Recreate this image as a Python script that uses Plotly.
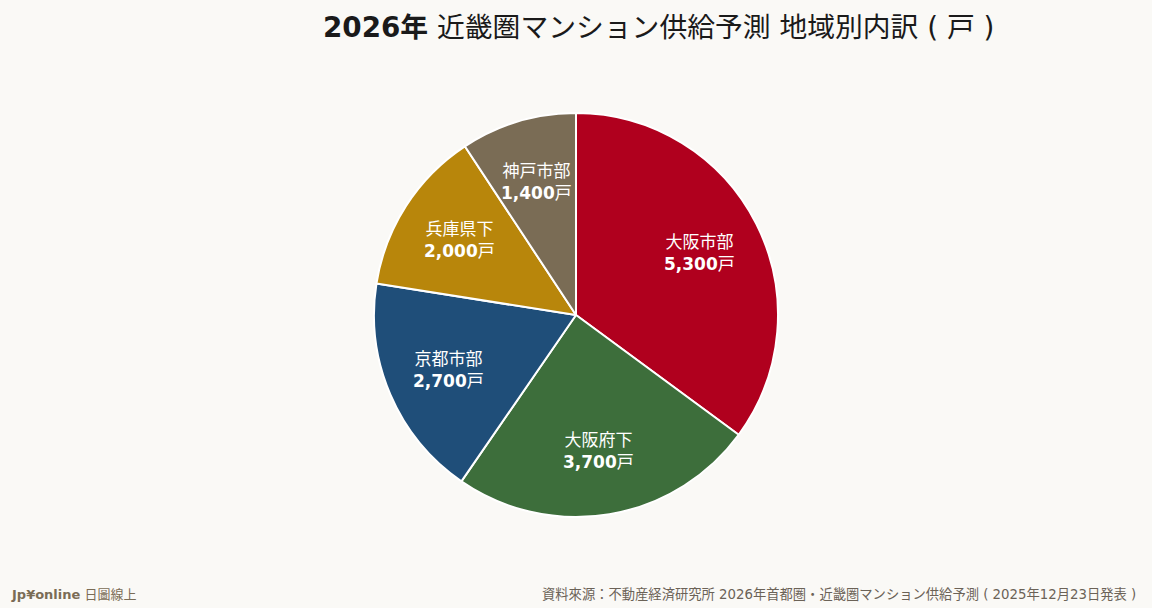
import math
import plotly.graph_objects as go

regions = ['大阪市部', '大阪府下', '京都市部', '兵庫県下', '神戸市部']
units = [5300, 3700, 2700, 2000, 1400]
colors = ['#b0001e', '#3d6e3b', '#1f4e79', '#b8860b', '#7a6c55']

bg = '#faf9f6'
W, H = 1152, 608
M_T, M_B = 113, 91

fig = go.Figure()
fig.add_trace(go.Pie(
    labels=regions,
    values=units,
    textinfo='none',
    sort=False,
    direction='clockwise',
    rotation=0,
    marker=dict(colors=colors, line=dict(color='white', width=2)),
    showlegend=False,
    hoverinfo='label+value',
))

# labels at ~0.685 of the radius along each slice bisector
plot_h = H - M_T - M_B
rad_px = plot_h / 2
total = sum(units)
cum = 0
for r, u in zip(regions, units):
    mid = (cum + u / 2) / total * 2 * math.pi
    cum += u
    dx = math.sin(mid) * rad_px * 0.685
    dy = math.cos(mid) * rad_px * 0.685
    fig.add_annotation(
        text=f'{r}<br><b>{u:,}</b>戸',
        xref='paper', yref='paper',
        x=0.5 + dx / W, y=0.5 + dy / plot_h,
        xanchor='center', yanchor='middle',
        showarrow=False, align='center',
        font=dict(size=17, color='white', family='DejaVu Sans, Noto Sans CJK JP'),
    )

fig.update_layout(
    width=W, height=H,
    paper_bgcolor=bg, plot_bgcolor=bg,
    margin=dict(l=0, r=0, t=M_T, b=M_B),
    title=dict(
        text='<b>2026年</b> 近畿圏マンション供給予測 地域別内訳 ( 戸 )',
        x=323 / W, xanchor='left', y=1 - 27 / H, yanchor='middle',
        font=dict(size=27.8, color='#1a1a1a', family='DejaVu Sans, Noto Sans CJK JP'),
    ),
    font=dict(family='DejaVu Sans, Noto Sans CJK JP'),
)

fig.add_annotation(
    text='<b>Jp¥online</b> 日圖線上',
    xref='paper', yref='paper', x=0, y=0, xanchor='left', yanchor='bottom',
    xshift=9, yshift=-87, showarrow=False,
    font=dict(size=13, color='#7a6c55'),
)
fig.add_annotation(
    text='資料來源：不動産経済研究所 2026年首都圏・近畿圏マンション供給予測 ( 2025年12月23日発表 )',
    xref='paper', yref='paper', x=1, y=0, xanchor='right', yanchor='bottom',
    xshift=-14, yshift=-87, showarrow=False,
    font=dict(size=13.3, color='#6b6257'),
)

fig.write_html('out.html', config={'displayModeBar': False},
               post_script="document.body.style.margin='0';")
